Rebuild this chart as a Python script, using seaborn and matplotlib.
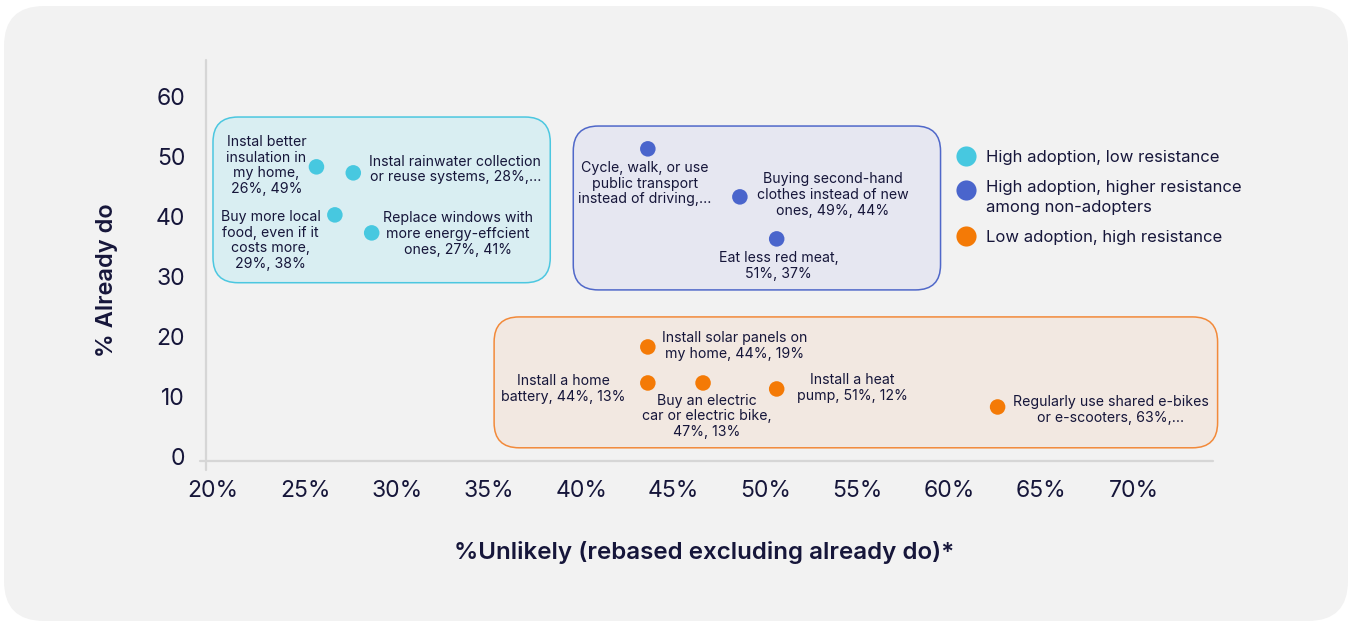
import matplotlib
matplotlib.use("Agg")
import matplotlib.pyplot as plt
from matplotlib.patches import FancyBboxPatch
from matplotlib.lines import Line2D
from matplotlib.legend_handler import HandlerLine2D
from matplotlib.transforms import ScaledTranslation
import pandas as pd
import seaborn as sns

# ---- data -------------------------------------------------------------
actions = [
    "Instal better\ninsulation in\nmy home,\n26%, 49%",
    "Instal rainwater collection\nor reuse systems, 28%,...",
    "Replace windows with\nmore energy-effcient\nones, 27%, 41%",
    "Buy more local\nfood, even if it\ncosts more,\n29%, 38%",
    "Cycle, walk, or use\npublic transport\ninstead of driving,...",
    "Buying second-hand\nclothes instead of new\nones, 49%, 44%",
    "Eat less red meat,\n51%, 37%",
    "Install solar panels on\nmy home, 44%, 19%",
    "Install a home\nbattery, 44%, 13%",
    "Buy an electric\ncar or electric bike,\n47%, 13%",
    "Install a heat\npump, 51%, 12%",
    "Regularly use shared e-bikes\nor e-scooters, 63%,...",
]
unlikely = [26, 28, 27, 29, 44, 49, 51, 44, 44, 47, 51, 63]
already_do = [49, 48, 41, 38, 52, 44, 37, 19, 13, 13, 12, 9]

g_low = "High adoption, low resistance"
g_high = "High adoption, higher resistance\namong non-adopters"
g_lowad = "Low adoption, high resistance"
groups = [g_low] * 4 + [g_high] * 3 + [g_lowad] * 5
group_order = [g_low, g_high, g_lowad]

x_ticks = [20, 25, 30, 35, 40, 45, 50, 55, 60, 65, 70]
y_ticks = [0, 10, 20, 30, 40, 50, 60]

df = pd.DataFrame({"action": actions, "unlikely": unlikely,
                   "already": already_do, "group": groups})

# ---- style ------------------------------------------------------------
sns.set_theme(style="white")
plt.rcParams["font.family"] = ["Inter", "DejaVu Sans"]
INK = "#16163a"
palette = {g_low: "#47c8e0", g_high: "#4a65cc", g_lowad: "#f47a06"}
box_style = {
    g_low: dict(fc="#d9eef2", ec="#4cc7e0"),
    g_high: dict(fc="#e6e7f1", ec="#5068c9"),
    g_lowad: dict(fc="#f2e8e1", ec="#f28a3a"),
}

W, H, DPI = 1350, 621, 100
fig = plt.figure(figsize=(W / DPI, H / DPI), dpi=DPI)
fig.patch.set_facecolor("white")

# rounded light-grey card behind everything
card = FancyBboxPatch((0.04, 0.0), 13.44, 6.15,
                      boxstyle="round,pad=0,rounding_size=0.4",
                      transform=fig.dpi_scale_trans, fc="#f2f2f2", ec="none",
                      zorder=0)
fig.add_artist(card)

ax_l, ax_r, ax_b, ax_t = 206, 1213, 461, 60
ax = fig.add_axes([ax_l / W, 1 - ax_b / H, (ax_r - ax_l) / W, (ax_b - ax_t) / H])
ax.set_facecolor("none")
xlim = (20, 74.7)
ylim = (0, 66.8)
ax.set_xlim(*xlim)
ax.set_ylim(*ylim)

sns.scatterplot(data=df, x="unlikely", y="already", hue="group",
                hue_order=group_order, palette=palette, s=125,
                edgecolor="none", linewidth=0, ax=ax, zorder=4, legend=False)

# group panels (rounded), drawn in data units with isotropic corners
px_per_x = (ax_r - ax_l) / (xlim[1] - xlim[0])
px_per_y = (ax_b - ax_t) / (ylim[1] - ylim[0])
aspect = px_per_x / px_per_y
radius = 25 / px_per_x
panels = {
    g_low: (20.38, 29.7, 38.7, 57.3),
    g_high: (39.95, 28.5, 59.9, 55.8),
    g_lowad: (35.65, 2.2, 74.95, 24.0),
}
for g, (x0, y0, x1, y1) in panels.items():
    p = FancyBboxPatch((x0, y0), x1 - x0, y1 - y0,
                       boxstyle=f"round,pad=0,rounding_size={radius}",
                       mutation_aspect=aspect, transform=ax.transData,
                       lw=1.1, clip_on=False, zorder=1, **box_style[g])
    ax.add_patch(p)

# point labels: (dx, dy in pixels, horizontal alignment)
label_offsets = [
    (-50, 1.5, "center"), (16, 3.5, "left"), (123, -19, "center"),
    (-101, -7.5, "center"), (-3, -35, "center"), (17, 2, "left"),
    (2, -27, "center"), (14, 1, "left"), (-22, -6, "right"),
    (4, -33.5, "center"), (20, 1, "left"), (15, -3, "left"),
]
for txt, x, y, (dx, dy, ha) in zip(actions, unlikely, already_do, label_offsets):
    ax.annotate(txt, xy=(x, y), xytext=(dx, dy), textcoords="offset pixels",
                ha=ha, va="center", multialignment="center",
                fontsize=10.2, color=INK, linespacing=1.15, zorder=5)

# axes lines
for s in ax.spines.values():
    s.set_visible(False)
axis_col = "#d6d6d6"
ax.plot([0, 0], [-9 / 401, 1], transform=ax.transAxes, color=axis_col,
        lw=1.6, clip_on=False, zorder=2)
ax.plot([-6 / 1007, 1], [0, 0], transform=ax.transAxes, color=axis_col,
        lw=1.6, clip_on=False, zorder=2)

ax.set_xticks(x_ticks)
ax.set_xticklabels([f"{v}%" for v in x_ticks])
ax.set_yticks(y_ticks)
ax.set_yticklabels([str(v) for v in y_ticks])
ax.tick_params(axis="both", length=0, labelsize=16.5, labelcolor=INK)
ax.tick_params(axis="x", pad=14)
ax.tick_params(axis="y", pad=15)
for lab in ax.get_xticklabels():
    lab.set_transform(lab.get_transform() + ScaledTranslation(0.07, 0, fig.dpi_scale_trans))
for lab in ax.get_yticklabels():
    lab.set_transform(lab.get_transform() + ScaledTranslation(0, 0.045, fig.dpi_scale_trans))

ax.set_xlabel("%Unlikely (rebased excluding already do)*", fontsize=17.4,
              fontweight="semibold", color=INK, va="center")
ax.xaxis.set_label_coords((704 - ax_l) / (ax_r - ax_l), (ax_b - 553) / (ax_b - ax_t))
ax.set_ylabel("% Already do", fontsize=17, fontweight="semibold", color=INK,
              va="center")
ax.yaxis.set_label_coords((107 - ax_l) / (ax_r - ax_l), (ax_b - 280) / (ax_b - ax_t))


# legend: marker sits level with the first line of a two-line label
class FirstLineHandler(HandlerLine2D):
    def __init__(self, lift=0.0, **kw):
        super().__init__(**kw)
        self.lift = lift

    def create_artists(self, legend, orig_handle, xdescent, ydescent,
                       width, height, fontsize, trans):
        return super().create_artists(legend, orig_handle, xdescent,
                                      ydescent - 2 * self.lift, width, height,
                                      fontsize, trans)


handles = [Line2D([], [], ls="none", marker="o", markersize=14.5,
                  markerfacecolor=palette[g], markeredgewidth=0)
           for g in group_order]
leg = ax.legend(handles, group_order, loc="upper left",
                bbox_to_anchor=(959 / W, 1 - 150 / H), bbox_transform=fig.transFigure,
                frameon=False, fontsize=12.0, handlelength=0.9,
                handletextpad=0.75, labelspacing=0.88, borderpad=0,
                borderaxespad=0, labelcolor=INK,
                handler_map={handles[1]: FirstLineHandler(lift=5.5)})
for t in leg.get_texts():
    t.set_linespacing(1.45)

fig.savefig("out.png", dpi=DPI, facecolor=fig.get_facecolor())
